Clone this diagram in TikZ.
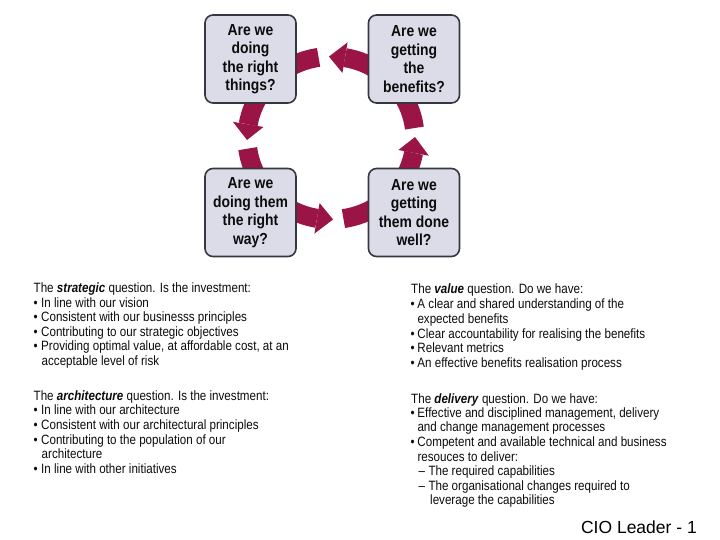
\documentclass[tikz,border=0pt]{standalone}
\usepackage{fontspec}
\setmainfont{Liberation Sans}
\newfontfamily\bodyfont[FakeStretch=0.86]{Liberation Sans}
\newfontfamily\qboxfont[FakeStretch=0.87]{Liberation Sans}
\definecolor{crim}{RGB}{155,20,70}
\definecolor{boxfill}{RGB}{219,220,232}
\definecolor{boxline}{RGB}{55,55,65}
\definecolor{txt}{RGB}{12,12,12}
\newcommand\lbul{\makebox[7.5pt][l]{•}}
\newcommand\rbul{\makebox[6.8pt][l]{•}}
\newcommand\rdash{\makebox[10pt][l]{–}}
\newcommand\bi[1]{\textbf{\textit{#1}}}
\begin{document}
\begin{tikzpicture}[x=1pt,y=-1pt,
  qbox/.style={draw=boxline, line width=1.6pt, rounded corners=8pt, fill=boxfill,
    minimum width=91pt, minimum height=88pt, inner sep=0pt, align=center,
    font=\qboxfont\bfseries\fontsize{16}{18.5}\selectfont, text=txt},
  band/.style={draw=crim, line width=19pt},
  body/.style={anchor=base west, inner sep=0pt, font=\bodyfont\fontsize{13.5}{14.5}\selectfont, text=txt},
]
\useasboundingbox[fill=white] (0,0) rectangle (720,540);
\coordinate (c) at (331,138);

% arrows: band, head, stub
% top (TR -> TL)
\draw[band] ([shift={(55:84pt and 81.5pt)}]c) arc[start angle=55, end angle=80.4, x radius=84pt, y radius=81.5pt];
\fill[crim] ([shift={(80.4:99.5pt and 97pt)}]c) -- ([shift={(91.4:84pt and 81.5pt)}]c) -- ([shift={(80.4:68.5pt and 66pt)}]c) -- cycle;
\draw[band] ([shift={(98.5:84pt and 81.5pt)}]c) arc[start angle=98.5, end angle=125, x radius=84pt, y radius=81.5pt];
% left (TL -> BL)
\draw[band] ([shift={(145:84pt and 81.5pt)}]c) arc[start angle=145, end angle=170.4, x radius=84pt, y radius=81.5pt];
\fill[crim] ([shift={(170.4:99.5pt and 97pt)}]c) -- ([shift={(181.4:84pt and 81.5pt)}]c) -- ([shift={(170.4:68.5pt and 66pt)}]c) -- cycle;
\draw[band] ([shift={(187.5:84pt and 81.5pt)}]c) arc[start angle=187.5, end angle=215, x radius=84pt, y radius=81.5pt];
% bottom (BL -> BR)
\draw[band] ([shift={(235:84pt and 81.5pt)}]c) arc[start angle=235, end angle=260.4, x radius=84pt, y radius=81.5pt];
\fill[crim] ([shift={(260.4:99.5pt and 97pt)}]c) -- ([shift={(271.4:84pt and 81.5pt)}]c) -- ([shift={(260.4:68.5pt and 66pt)}]c) -- cycle;
\draw[band] ([shift={(278.5:84pt and 81.5pt)}]c) arc[start angle=278.5, end angle=305, x radius=84pt, y radius=81.5pt];
% right (BR -> TR)
\draw[band] ([shift={(325:84pt and 81.5pt)}]c) arc[start angle=325, end angle=349.5, x radius=84pt, y radius=81.5pt];
\fill[crim] ([shift={(349.5:99.5pt and 97pt)}]c) -- ([shift={(360.7:84pt and 81.5pt)}]c) -- ([shift={(349.5:68.5pt and 66pt)}]c) -- cycle;
\draw[band] ([shift={(367:84pt and 81.5pt)}]c) arc[start angle=367, end angle=395, x radius=84pt, y radius=81.5pt];

% boxes
\node[qbox] (tl) at (250.5,59) {Are we\\doing\\the right\\things?};
\node[qbox] (tr) at (414,59) {Are we\\getting\\the\\benefits?};
\node[qbox] (bl) at (250.5,212.5) {Are we\\doing them\\the right\\way?};
\node[qbox] (br) at (414,212.5) {Are we\\getting\\them done\\well?};

% left column
\node[body] (s0) at (33.5,292.5) {The \bi{strategic} question. Is the investment:};
\node[body] (s1) at (33.5,307) {\lbul In line with our vision};
\node[body] (s2) at (33.5,321.5) {\lbul Consistent with our businesss principles};
\node[body] (s3) at (33.5,336) {\lbul Contributing to our strategic objectives};
\node[body] (s4) at (33.5,350.8) {\lbul Providing optimal value, at affordable cost, at an};
\node[body] (s5) at (41.5,365) {acceptable level of risk};

\node[body] (a0) at (33.5,400) {The \bi{architecture} question. Is the investment:};
\node[body] (a1) at (33.5,414.7) {\lbul In line with our architecture};
\node[body] (a2) at (33.5,429.2) {\lbul Consistent with our architectural principles};
\node[body] (a3) at (33.5,444) {\lbul Contributing to the population of our};
\node[body] (a4) at (41.5,458.3) {architecture};
\node[body] (a5) at (33.5,473) {\lbul In line with other initiatives};

% right column
\node[body] (v0) at (411,293.5) {The \bi{value} question. Do we have:};
\node[body] (v1) at (410.5,308.5) {\rbul A clear and shared understanding of the};
\node[body] (v2) at (417.3,323) {expected benefits};
\node[body] (v3) at (410.5,338) {\rbul Clear accountability for realising the benefits};
\node[body] (v4) at (410.5,352.5) {\rbul Relevant metrics};
\node[body] (v5) at (410.5,367) {\rbul An effective benefits realisation process};

\node[body] (d0) at (411,403.2) {The \bi{delivery} question. Do we have:};
\node[body] (d1) at (410.5,417.5) {\rbul Effective and disciplined management, delivery};
\node[body] (d2) at (417.3,431.7) {and change management processes};
\node[body] (d3) at (410.5,446.5) {\rbul Competent and available technical and business};
\node[body] (d4) at (417.3,461) {resouces to deliver:};
\node[body] (d5) at (418.3,475.8) {\rdash The required capabilities};
\node[body] (d6) at (418.3,490) {\rdash The organisational changes required to};
\node[body] (d7) at (430,504.8) {leverage the capabilities};

% footer
\node[anchor=base east, inner sep=0pt, font=\fontsize{17.5}{20}\selectfont, text=black] (ft) at (697,533) {CIO Leader - 1};
\end{tikzpicture}
\end{document}
